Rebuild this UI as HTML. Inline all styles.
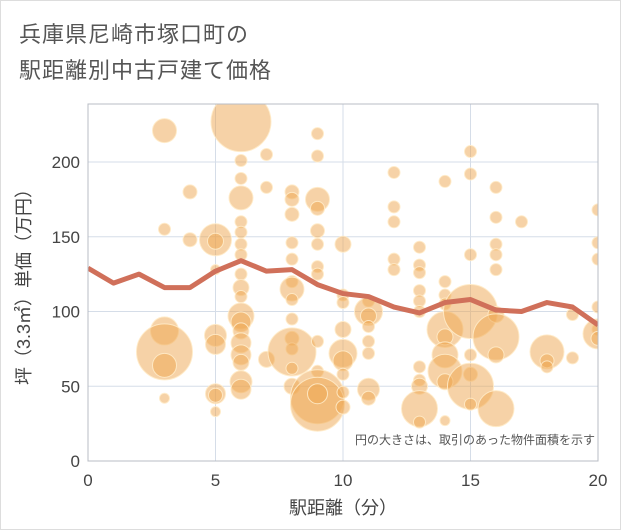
<!DOCTYPE html>
<html><head><meta charset="utf-8">
<style>
body{margin:0;background:#fff;font-family:"Liberation Sans","Noto Sans CJK JP",sans-serif;}
#wrap{position:relative;width:619px;height:528px;border:1px solid #ddd;}
.title{position:absolute;left:18px;font-size:22px;color:#555;letter-spacing:1px;}
</style></head><body>
<div id="wrap">
<div class="title" style="top:16px">兵庫県尼崎市塚口町の</div>
<div class="title" style="top:52px">駅距離別中古戸建て価格</div>
<svg id="chart" width="619" height="528" style="position:absolute;left:0;top:0"></svg>
</div>
<script>
const xTicks=[0,5,10,15,20];
const yTicks=[0,50,100,150,200];
const lineX=[0,1,2,3,4,5,6,7,8,9,10,11,12,13,14,15,16,17,18,19,20];
const lineY=[129,119,125,116,116,127,134,127,128,118,112,110,103,99,106,108,101,100,106,103,91];
const bubX=[3,3,3,3,3,3,4,4,5,5,5,5,5,5,5,5,6,6,6,6,6,6,6,6,6,6,6,6,6,6,6,6,6,6,6,7,7,7,8,8,8,8,8,8,8,8,8,8,8,8,8,8,9,9,9,9,9,9,9,9,9,9,9,9,9,10,10,10,10,10,10,10,10,10,11,11,11,11,11,11,11,11,12,12,12,12,12,13,13,13,13,13,13,13,13,13,13,13,14,14,14,14,14,14,14,14,14,14,15,15,15,15,15,15,15,15,16,16,16,16,16,16,16,16,16,17,18,18,18,19,19,20,20,20,20,20,20,20];
const bubY=[221,155,87,73,64,42,180,148,148,147,128,84,78,45,44,33,227,201,189,176,160,153,145,138,125,116,110,97,93,87,79,71,66,53,48,205,183,68,180,175,165,146,135,120,115,108,95,82,75,73,62,50,219,204,175,169,154,145,130,125,80,60,43,38,45,145,111,106,88,72,67,58,46,36,107,100,97,90,80,72,48,42,193,170,160,135,128,143,131,126,114,107,100,63,54,50,35,26,187,120,111,105,88,83,71,60,53,27,207,192,138,100,71,58,50,38,183,163,145,138,128,98,83,71,35,160,73,67,63,98,69,168,146,135,103,88,85,82];
const bubR=[12,6,14,28,12,5,7,7,16,8,5,11,10,10,7,5,30,6,6,12,6,6,6,6,6,8,6,13,10,8,10,10,8,11,10,6,6,8,7,7,7,6,6,6,12,6,6,7,6,24,6,8,6,6,12,7,7,6,6,6,6,6,27,27,10,8,6,6,8,14,10,6,6,7,6,14,8,6,6,6,11,7,6,6,6,6,6,6,6,6,6,6,6,6,6,8,18,6,6,6,6,6,18,8,13,17,8,5,6,6,6,27,6,7,23,6,6,6,6,6,6,8,23,8,18,6,17,7,6,6,6,6,6,6,6,6,15,7];
const L=87,R=597,T=103,B=460;
const sx=v=>L+(v-0)/20*(R-L);
const sy=v=>B-v*(B-161)/200;
const svg=document.getElementById('chart');
const NS='http://www.w3.org/2000/svg';
function mk(t,a){const e=document.createElementNS(NS,t);for(const k in a)e.setAttribute(k,a[k]);svg.appendChild(e);return e;}
const defs=mk('defs',{});
const cp=document.createElementNS(NS,'clipPath');cp.setAttribute('id','clip');
const cr=document.createElementNS(NS,'rect');cr.setAttribute('x',L);cr.setAttribute('y',T);cr.setAttribute('width',R-L);cr.setAttribute('height',B-T);
cp.appendChild(cr);defs.appendChild(cp);
xTicks.forEach(v=>{
 const g=mk('line',{x1:sx(v),x2:sx(v),y1:T,y2:B,stroke:'#d5dde8','stroke-width':1});
 
 
 const t=mk('text',{x:sx(v),y:B+25,'text-anchor':'middle','font-size':17,fill:'#444'});t.textContent=v;
 
 
});
yTicks.forEach(v=>{
 const g=mk('line',{x1:L,x2:R,y1:sy(v),y2:sy(v),stroke:'#d5dde8','stroke-width':1});
 
 
 const t=mk('text',{x:L-8,y:sy(v)+6,'text-anchor':'end','font-size':17,fill:'#444'});t.textContent=v;
 
 
});
const gb=mk('g',{'clip-path':'url(#clip)'});


bubX.forEach((x,i)=>{
 const c=document.createElementNS(NS,'circle');
 c.setAttribute('cx',sx(x));c.setAttribute('cy',sy(bubY[i]));c.setAttribute('r',bubR[i]);
 c.setAttribute('fill','rgba(238,165,80,0.5)');c.setAttribute('stroke','rgba(255,235,200,0.9)');c.setAttribute('stroke-width',1);
 
 
 gb.appendChild(c);
});
const pl=mk('polyline',{points:lineX.map((x,i)=>sx(x)+','+sy(lineY[i])).join(' '),fill:'none',stroke:'#d0705a','stroke-width':5,'stroke-linejoin':'round','clip-path':'url(#clip)'});


const fr=mk('rect',{x:L,y:T,width:R-L,height:B-T,fill:'none',stroke:'#b8bcc4','stroke-width':1});


const note=mk('text',{x:R-3,y:443,'text-anchor':'end','font-size':12,fill:'#555'});note.textContent='円の大きさは、取引のあった物件面積を示す';


const xl=mk('text',{x:(L+R)/2,y:513,'text-anchor':'middle','font-size':18,fill:'#444'});xl.textContent='駅距離（分）';


const yl=mk('text',{x:0,y:0,'text-anchor':'middle','font-size':18,fill:'#444',transform:'translate(29,'+((T+B)/2)+') rotate(-90)'});yl.textContent='坪（3.3㎡）単価（万円）';


</script>
</body></html>
